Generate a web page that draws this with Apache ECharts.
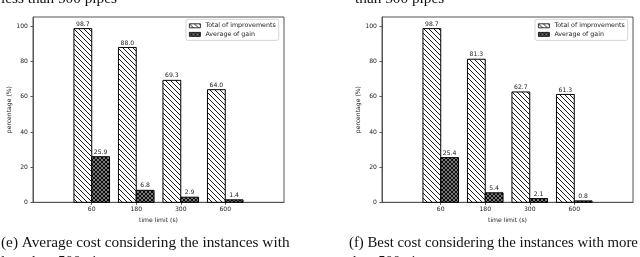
<!DOCTYPE html>
<html>
<head>
<meta charset="utf-8">
<script src="https://cdn.jsdelivr.net/npm/echarts@6/dist/echarts.min.js"></script>
<style>
html,body{margin:0;padding:0;background:#fff;}
#c{width:640px;height:257px;}
</style>
</head>
<body>
<div id="c"></div>
<script>
// ---- data ----
var categories = ['60', '180', '300', '600'];
var avgTotal = [98.7, 88.0, 69.3, 64.0];
var avgGain = [25.9, 6.8, 2.9, 1.4];
var bestTotal = [98.7, 81.3, 62.7, 61.3];
var bestGain = [25.4, 5.4, 2.1, 0.8];
var yTicks = [0, 20, 40, 60, 80, 100];
var seriesNames = ['Total of improvements', 'Average of gain'];
var captionE = ['(e) Average cost considering the instances with', 'less than 500 pipes'];
var captionF = ['(f) Best cost considering the instances with more', 'than 500 pipes'];
var topLeftText = 'less than 500 pipes';
var topRightText = 'than 500 pipes';
var xLabel = 'time limit (s)';
var yLabel = 'percentage (%)';

// ---- patterns ----
function hatchPattern() {
  var s = 5, c = document.createElement('canvas');
  c.width = s; c.height = s;
  var g = c.getContext('2d');
  g.fillStyle = '#fff'; g.fillRect(0, 0, s, s);
  g.strokeStyle = '#000'; g.lineWidth = 0.9;
  g.beginPath();
  g.moveTo(-1, -1); g.lineTo(s + 1, s + 1);
  g.moveTo(-1, s - 1); g.lineTo(1, s + 1);
  g.moveTo(s - 1, -1); g.lineTo(s + 1, 1);
  g.stroke();
  return { image: c, repeat: 'repeat' };
}
function crossPattern() {
  var s = 4, c = document.createElement('canvas');
  c.width = s; c.height = s;
  var g = c.getContext('2d');
  g.fillStyle = '#7a7a7a'; g.fillRect(0, 0, s, s);
  g.strokeStyle = '#000'; g.lineWidth = 0.9;
  g.beginPath();
  g.moveTo(-1, -1); g.lineTo(s + 1, s + 1);
  g.moveTo(-1, s + 1); g.lineTo(s + 1, -1);
  g.stroke();
  return { image: c, repeat: 'repeat' };
}
var hatch = hatchPattern();
var cross = crossPattern();

var SANS = 'DejaVu Sans';
var SERIF = 'Liberation Serif';
var txtColor = '#1a1a1a';
var frameColor = '#555';
var FS = 6.1;

function makeRender(offset, fill) {
  return function (params, api) {
    var x = api.value(0), y = api.value(1);
    var p0 = api.coord([x + offset - 0.2, y]);
    var p1 = api.coord([x + offset + 0.2, 0]);
    return {
      type: 'group',
      children: [
        { type: 'rect',
          shape: { x: p0[0], y: p0[1], width: p1[0] - p0[0], height: p1[1] - p0[1] },
          style: { fill: fill, stroke: '#000', lineWidth: 1 } },
        { type: 'text',
          style: { text: y.toFixed(1), x: (p0[0] + p1[0]) / 2, y: p0[1] - 1.5,
                   align: 'center', verticalAlign: 'bottom',
                   font: FS + 'px "' + SANS + '"', fill: txtColor } }
      ]
    };
  };
}

function toData(arr) { return arr.map(function (v, i) { return [i, v]; }); }

var gridLefts = [33, 382];
var grids = [], xAxes = [], yAxes = [], series = [], legends = [];
[[avgTotal, avgGain], [bestTotal, bestGain]].forEach(function (pair, k) {
  grids.push({ left: gridLefts[k], top: 17, width: 251, height: 185.3,
               show: true, borderColor: frameColor, borderWidth: 1, backgroundColor: 'transparent' });
  xAxes.push({
    type: 'value', gridIndex: k, min: -1.32, max: 4.32,
    name: xLabel, nameLocation: 'middle', nameGap: 11,
    nameTextStyle: { fontFamily: SANS, fontSize: FS, color: txtColor },
    axisLine: { show: true, onZero: false, lineStyle: { color: frameColor, width: 1 } },
    axisTick: { show: true, length: 2.5, customValues: [0, 1, 2, 3], lineStyle: { color: frameColor } },
    axisLabel: { customValues: [0, 1, 2, 3], margin: 4, fontFamily: SANS, fontSize: FS, color: txtColor,
                 formatter: function (v) { return categories[Math.round(v)]; } },
    splitLine: { show: false }
  });
  yAxes.push({
    type: 'value', gridIndex: k, min: 0, max: 105.3,
    name: yLabel, nameLocation: 'middle', nameGap: 20, nameRotate: 90,
    nameTextStyle: { fontFamily: SANS, fontSize: FS, color: txtColor },
    axisLine: { show: true, onZero: false, lineStyle: { color: frameColor, width: 1 } },
    axisTick: { show: true, length: 2.5, customValues: yTicks, lineStyle: { color: frameColor } },
    axisLabel: { customValues: yTicks, margin: 5, fontFamily: SANS, fontSize: FS, color: txtColor },
    splitLine: { show: false }
  });
  series.push({ type: 'custom', name: seriesNames[0], xAxisIndex: k, yAxisIndex: k,
                itemStyle: { color: hatch, borderColor: '#000' },
                renderItem: makeRender(-0.2, hatch), data: toData(pair[0]) });
  series.push({ type: 'custom', name: seriesNames[1], xAxisIndex: k, yAxisIndex: k,
                itemStyle: { color: cross, borderColor: '#000' },
                renderItem: makeRender(0.2, cross), data: toData(pair[1]) });
  legends.push({
    left: 186 + 349 * k, top: 19.3, orient: 'vertical',
    backgroundColor: '#fff', borderColor: '#ccc', borderWidth: 0.8, borderRadius: 2,
    padding: [3, 3, 2.5, 3], itemGap: 1.6, itemWidth: 11, itemHeight: 4,
    textStyle: { fontFamily: SANS, fontSize: 6.3, color: txtColor, lineHeight: 7 },
    selectedMode: false,
    data: [
      { name: seriesNames[0], icon: 'rect', itemStyle: { color: hatch, borderColor: '#000', borderWidth: 0.8 } },
      { name: seriesNames[1], icon: 'rect', itemStyle: { color: cross, borderColor: '#000', borderWidth: 0.8 } }
    ]
  });
});

function capText(str, x, y, size) {
  return { type: 'text', left: x, top: y, silent: true,
           style: { text: str, font: size + 'px "' + SERIF + '"', fill: '#111' } };
}

var chart = echarts.init(document.getElementById('c'), null, { renderer: 'canvas' });
chart.setOption({
  animation: false,
  backgroundColor: '#fff',
  grid: grids, xAxis: xAxes, yAxis: yAxes, series: series, legend: legends,
  graphic: [
    capText(topLeftText, 1, -9, 15.3),
    capText(topRightText, 355, -9, 15.3),
    capText(captionE[0], 1, 235, 15.3),
    capText(captionE[1], 1, 254.5, 15.3),
    capText(captionF[0], 349, 235.5, 14.8),
    capText(captionF[1], 349, 254.5, 14.8)
  ]
});
</script>
</body>
</html>
